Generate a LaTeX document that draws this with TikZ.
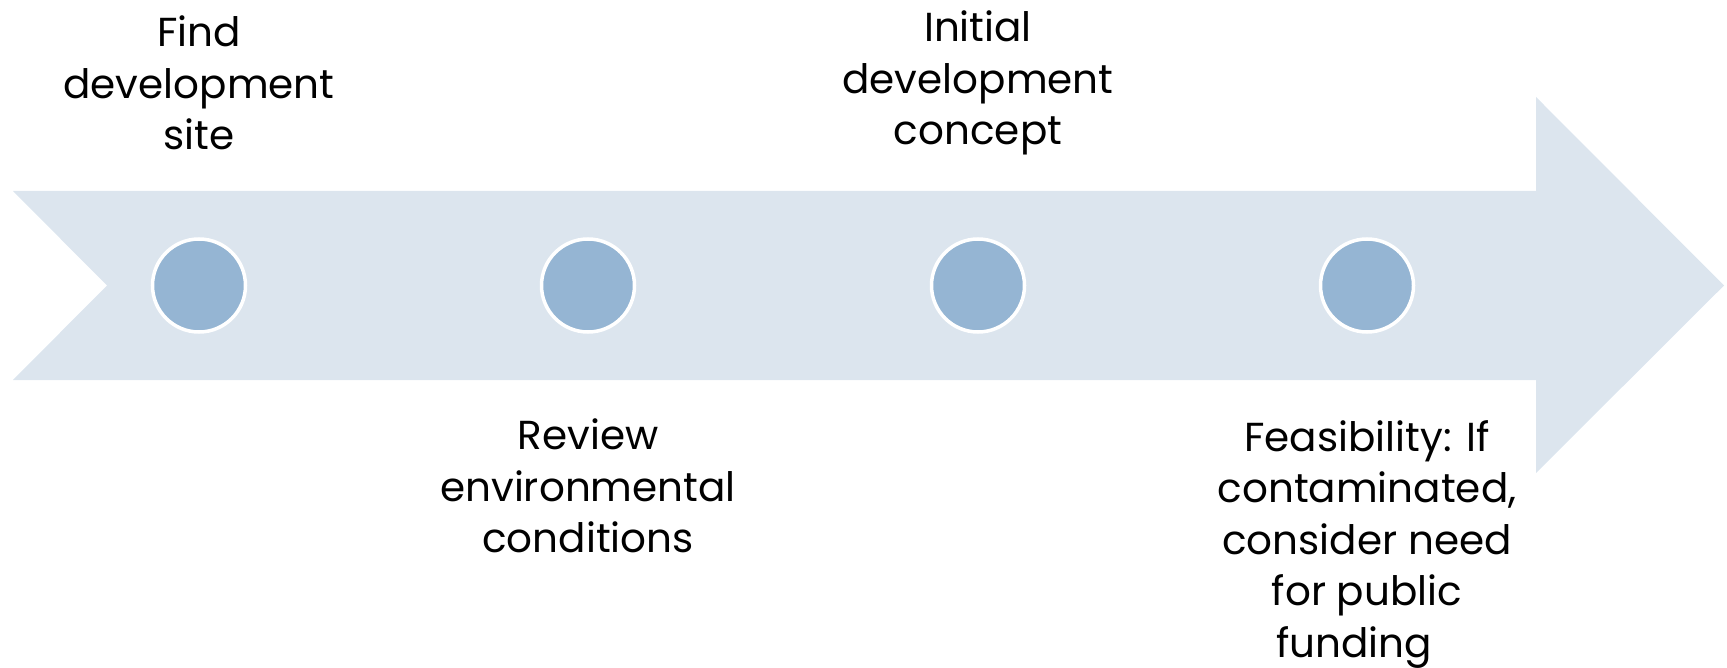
\documentclass[tikz,border=0pt]{standalone}
\usepackage{fontspec}
\setmainfont{Poppins}
\definecolor{bandcol}{RGB}{220,229,238}
\definecolor{dotcol}{RGB}{149,181,211}
\begin{document}
\begin{tikzpicture}[x=1pt,y=-1pt,
  dot/.style={circle,fill=dotcol,draw=white,line width=3.5pt,minimum size=93pt,inner sep=0pt},
  lbl/.style={align=center,inner sep=0pt,font=\fontsize{40.5}{51.5}\selectfont}]
\useasboundingbox (0,0) rectangle (1727,668);
\fill[bandcol] (13,191) -- (1536,191) -- (1536,97) -- (1724,285.5) -- (1536,473) -- (1536,380) -- (13,380) -- (107,285.5) -- cycle;
\node[dot] (c1) at (199,285.5) {};
\node[dot] (c2) at (588,285.5) {};
\node[dot] (c3) at (978,285.5) {};
\node[dot] (c4) at (1367,285.5) {};
\node[lbl] (t1) at (199,83) {Find\\development\\site};
\node[lbl] (t2) at (588,486) {Review\\environmental\\conditions};
\node[lbl] (t3) at (978,83) {Initial\\development\\concept};
\node[lbl] (t4) at (1367,544) {Feasibility: If\\contaminated,\\consider need\\for public\\funding\hspace*{26pt}};
\end{tikzpicture}
\end{document}
